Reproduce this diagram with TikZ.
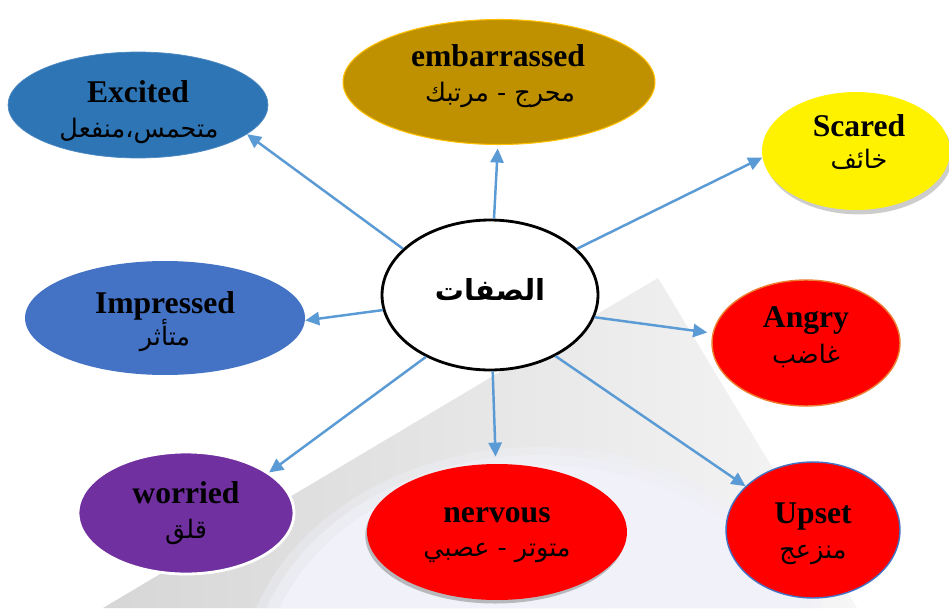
\documentclass[tikz,border=0pt]{standalone}
\usepackage{fontspec}
\setmainfont{Liberation Serif}
\newfontfamily\arabicfont[Script=Arabic]{DejaVu Sans}
\TeXXeTstate=1
\usetikzlibrary{shapes.geometric,arrows.meta,shadows}
\definecolor{arrowblue}{HTML}{5B9BD5}
\definecolor{exblue}{HTML}{2E75B6}
\definecolor{imblue}{HTML}{4472C4}
\definecolor{gold}{HTML}{BF9000}
\definecolor{goldline}{HTML}{FFC000}
\definecolor{orangeline}{HTML}{ED7D31}
\definecolor{purp}{HTML}{7030A0}
\definecolor{lav}{HTML}{F0F1F9}
\begin{document}
\begin{tikzpicture}[x=0.02cm,y=-0.02cm,
  emo/.style={ellipse,inner sep=0pt},
  entxt/.style={anchor=base,inner sep=0pt,font=\fontsize{18}{22}\selectfont\bfseries},
  artxt/.style={anchor=base,inner sep=0pt,font=\arabicfont\fontsize{14.5}{17}\selectfont},
  arr/.style={draw=arrowblue,line width=1.4pt,-{Triangle[length=8pt,width=7.5pt]}},
  shad/.style={drop shadow={opacity=0.4,shadow xshift=1.5pt,shadow yshift=-2.5pt}}]
\useasboundingbox (0,0) rectangle (949,608);
\fill[white] (0,0) rectangle (949,608);
% background triangle
\begin{scope}
  \clip (658,278) -- (857,608) -- (103,608) -- cycle;
  \shade[left color=gray!32,right color=gray!7] (100,278) rectangle (860,608);
  \fill[lav,opacity=0.4] (540,685) ellipse (300 and 238);
  \fill[lav,opacity=0.6] (540,685) ellipse (290 and 230);
  \fill[lav] (540,685) ellipse (278 and 220);
\end{scope}
% ellipses
\node[emo,fill=exblue,draw=exblue!85!white,minimum width=5.2cm,minimum height=2.12cm] (ex) at (138,105) {};
\node[emo,fill=gold,draw=goldline,line width=0.6pt,minimum width=6.24cm,minimum height=2.5cm] (em) at (499,82) {};
\node[emo,fill=yellow,shad,minimum width=3.76cm,minimum height=2.36cm] (sc) at (856,151) {};
\node[emo,fill=white,draw=black,line width=1.6pt,minimum width=4.32cm,minimum height=3cm] (c) at (490,295) {};
\node[emo,fill=imblue,minimum width=5.6cm,minimum height=2.28cm] (im) at (165,318) {};
\node[emo,fill=red,draw=orangeline,line width=0.8pt,minimum width=3.76cm,minimum height=2.52cm] (an) at (806,343) {};
\node[emo,fill=purp,draw=white,line width=1.6pt,minimum width=4.32cm,minimum height=2.44cm] (wo) at (186,513) {};
\node[emo,fill=red,drop shadow={opacity=0.5,shadow xshift=-1pt,shadow yshift=-2pt},minimum width=5.2cm,minimum height=2.72cm] (ne) at (497,532) {};
\node[emo,fill=red,draw=imblue,line width=0.8pt,minimum width=3.48cm,minimum height=2.72cm] (up) at (813,530) {};
% texts
\node[entxt] (ex-en) at (138,102) {Excited};
\node[artxt] (ex-ar) at (139,137) {\beginR متحمس،منفعل\endR};
\node[entxt] (em-en) at (498,67) {embarrassed};
\node[artxt] (em-ar) at (500,101) {\beginR محرج - مرتبك\endR};
\node[entxt] (sc-en) at (859,136) {Scared};
\node[artxt] (sc-ar) at (859,168) {\beginR خائف\endR};
\node[anchor=base,inner sep=0pt,font=\arabicfont\bfseries\fontsize{16.5}{20}\selectfont] (c-t) at (490,300) {\beginR الصفات\endR};
\node[entxt] (im-en) at (165,313) {Impressed};
\node[artxt] (im-ar) at (165,345) {\beginR متأثر\endR};
\node[entxt] (an-en) at (806,327) {Angry};
\node[artxt] (an-ar) at (806,363) {\beginR غاضب\endR};
\node[entxt] (wo-en) at (186,503) {worried};
\node[artxt] (wo-ar) at (186,538) {\beginR قلق\endR};
\node[entxt] (ne-en) at (497,522) {nervous};
\node[artxt] (ne-ar) at (497,556) {\beginR متوتر - عصبي\endR};
\node[entxt] (up-en) at (813,523) {Upset};
\node[artxt] (up-ar) at (813,558) {\beginR منزعج\endR};
% connectors
\draw[arr] (c.152) -- (ex.-15);
\draw[arr,shorten >=2pt] (c.87) -- (em.-91);
\draw[arr] (c.28) -- (sc.184);
\draw[arr] (c.188) -- (im.-1);
\draw[arr,shorten >=3pt] (c.-12) -- (an.174);
\draw[arr] (c.224) -- (wo.26);
\draw[arr,shorten >=4pt] (c.-88) -- (ne.91);
\draw[arr] (c.-43) -- (up.147);
\end{tikzpicture}
\end{document}
